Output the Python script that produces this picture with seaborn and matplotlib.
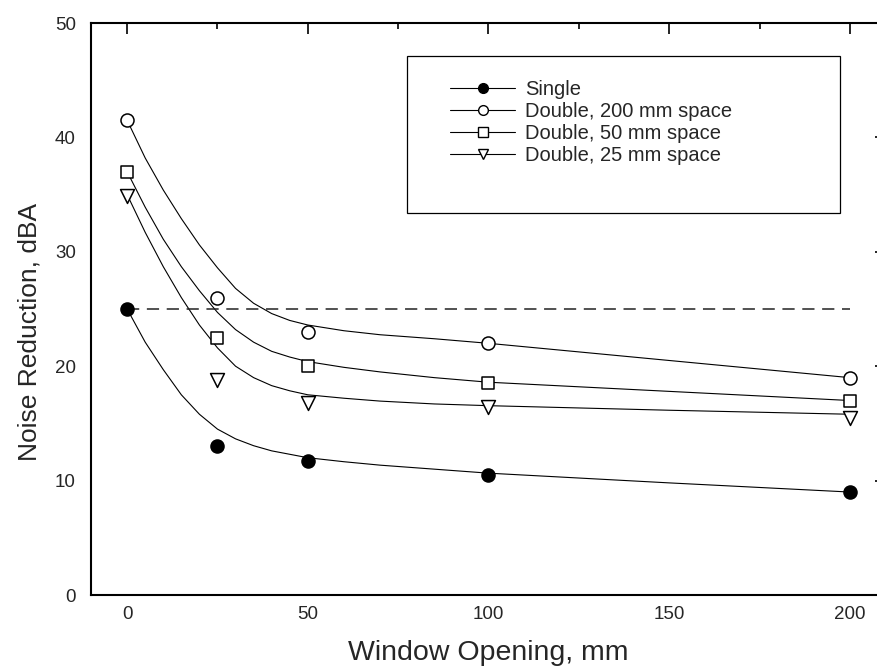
import numpy as np
import pandas as pd
import matplotlib
matplotlib.use("Agg")
import matplotlib.pyplot as plt
from matplotlib.lines import Line2D
from matplotlib.patches import Rectangle
from matplotlib.ticker import MultipleLocator
import seaborn as sns

# measured points
opening = [0, 25, 50, 100, 200]
single = [25.0, 13.0, 11.7, 10.5, 9.0]
double_200 = [41.5, 26.0, 23.0, 22.0, 19.0]
double_50 = [37.0, 22.5, 20.0, 18.5, 17.0]
double_25 = [34.9, 18.8, 16.8, 16.4, 15.5]

# fitted curves
curve_x = [0, 5, 10, 15, 20, 25, 30, 35, 40, 45, 50, 60, 70, 85, 100, 150, 200]
fit_single = [25.0, 22.1, 19.7, 17.5, 15.8, 14.5, 13.65, 13.05, 12.6, 12.3, 12.0, 11.65, 11.35, 11.0, 10.65, 9.8, 9.0]
fit_200 = [41.5, 38.2, 35.4, 32.9, 30.6, 28.6, 26.8, 25.5, 24.6, 24.0, 23.6, 23.1, 22.75, 22.4, 22.0, 20.5, 19.0]
fit_50 = [37.0, 33.9, 31.1, 28.7, 26.6, 24.7, 23.2, 22.1, 21.3, 20.8, 20.4, 19.9, 19.5, 19.0, 18.6, 17.8, 17.0]
fit_25 = [35.0, 31.7, 28.7, 26.0, 23.6, 21.6, 20.0, 19.0, 18.3, 17.85, 17.5, 17.2, 16.95, 16.7, 16.55, 16.15, 15.8]

limit_x = [0, 200]
limit_y = [25, 25]

labels = ["Single", "Double, 200 mm space", "Double, 50 mm space", "Double, 25 mm space"]
markers = ["o", "o", "s", "v"]
faces = ["black", "white", "white", "white"]
sizes = [88, 88, 80, 100]

sns.set_style("white")
plt.rcParams['font.family'] = ['Liberation Sans', 'DejaVu Sans']

points = pd.DataFrame({
    'x': opening * 4,
    'y': single + double_200 + double_50 + double_25,
    'series': np.repeat(labels, len(opening)),
})
curves = pd.DataFrame({
    'x': curve_x * 4,
    'y': fit_single + fit_200 + fit_50 + fit_25,
    'series': np.repeat(labels, len(curve_x)),
})

fig = plt.figure(figsize=(8.77, 6.71), dpi=100)
ax = fig.add_axes([91 / 877, 1 - 595 / 671, (886 - 91) / 877, (595 - 23) / 671])

sns.lineplot(data=curves, x='x', y='y', units='series', estimator=None,
             color='black', lw=0.8, sort=False, ax=ax, legend=False)
sns.lineplot(x=limit_x, y=limit_y, color='#222222', lw=1.1,
             linestyle=(0, (8, 5)), ax=ax, legend=False)

for lab, mk, fc, s in zip(labels, markers, faces, sizes):
    sub = points[points['series'] == lab]
    sns.scatterplot(data=sub, x='x', y='y', marker=mk, s=s, color=fc,
                    edgecolor='black', linewidth=1.1, ax=ax, legend=False, zorder=3)

ax.set_xlim(-10, 210)
ax.set_ylim(0, 50)
ax.xaxis.set_major_locator(MultipleLocator(50))
ax.xaxis.set_minor_locator(MultipleLocator(25))
ax.yaxis.set_major_locator(MultipleLocator(10))
ax.yaxis.set_minor_locator(MultipleLocator(5))
ax.tick_params(which='both', direction='in', top=True, right=True, width=1.2, color='black')
ax.tick_params(which='major', length=8)
ax.tick_params(which='minor', length=4.5)
ax.tick_params(axis='x', which='major', labelsize=13.5, pad=8)
ax.tick_params(axis='y', which='major', labelsize=13.5, pad=11)
for sp in ax.spines.values():
    sp.set_linewidth(1.5)
    sp.set_color('black')

ax.set_xlabel("Window Opening, mm", fontsize=20.5, labelpad=12)
ax.set_ylabel("Noise Reduction, dBA", fontsize=19)
ax.yaxis.set_label_coords(-0.062, 0.46)

# legend box
ax.add_patch(Rectangle((0.3975, 0.668), 0.5445, 0.2745, transform=ax.transAxes,
                       facecolor='white', edgecolor='black', lw=0.9, zorder=4))
handles = [Line2D([], [], color='black', lw=0.8, marker=mk, markersize=7,
                  markerfacecolor=fc, markeredgecolor='black', markeredgewidth=1.0)
           for mk, fc in zip(markers, faces)]
leg = ax.legend(handles, labels, loc='upper left', bbox_to_anchor=(0.4516, 0.9003),
                frameon=False, fontsize=14.5, handlelength=3.23, handletextpad=0.5,
                labelspacing=0.15, borderpad=0, borderaxespad=0)
leg.set_zorder(5)

fig.savefig("out.png", dpi=100)
